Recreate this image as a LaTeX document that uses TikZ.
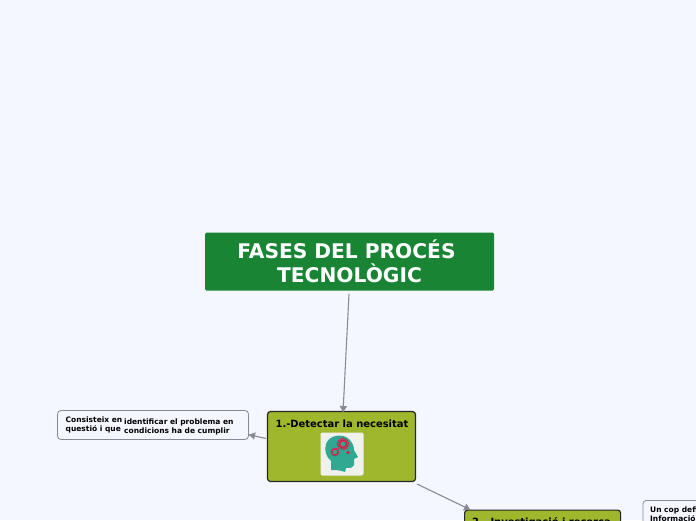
\documentclass[tikz,border=0pt]{standalone}
\usepackage{fontspec}
\setmainfont{DejaVu Sans}
\usepackage{xcolor}
\usetikzlibrary{arrows.meta}
\definecolor{pagebg}{RGB}{244,247,255}
\definecolor{titlegreen}{RGB}{25,133,52}
\definecolor{stepolive}{RGB}{158,183,45}
\definecolor{linkgray}{RGB}{136,139,146}
\definecolor{notegray}{RGB}{135,138,150}
\definecolor{headteal}{RGB}{49,168,146}
\definecolor{gearred}{RGB}{214,32,72}
\definecolor{iconbg}{RGB}{240,241,236}

\tikzset{
    titlebox/.style={fill=titlegreen, rounded corners=1.5pt, minimum width=289pt, minimum height=58pt, inner sep=0pt, text=white, align=center, font=\bfseries\fontsize{20.2}{23.5}\selectfont},
    stepbox/.style={draw=black!85, line width=1.2pt, fill=stepolive, rounded corners=3pt, inner sep=0pt},
    notebox/.style={draw=notegray, line width=0.8pt, fill=pagebg, rounded corners=3.5pt, inner sep=0pt},
    notetext/.style={inner sep=0pt, align=left, anchor=north west, font=\bfseries\fontsize{7.5}{9}\selectfont},
    steptext/.style={inner sep=0pt, font=\bfseries\fontsize{9.95}{11}\selectfont},
    link/.style={draw=linkgray, line width=1.1pt, -{Latex[length=7pt,width=8pt]}}
}

\begin{document}
\begin{tikzpicture}[x=1pt,y=-1pt]

\useasboundingbox (0,0) rectangle (696,520);
\clip (0,0) rectangle (696,520);
\fill[pagebg] (0,0) rectangle (696,520);

% main title
\node[titlebox] (title) at (349.5,261.5) {FASES DEL PROCÉS\hspace*{6pt}\\TECNOLÒGIC};

% first step
\node[stepbox, minimum width=148pt, minimum height=70pt] (detect) at (341.5,446.5) {};
\node[steptext] (detecttext) at (342,423.5) {1.-Detectar la necesitat};
\node[fill=iconbg, rounded corners=2pt, minimum width=43pt, minimum height=43pt, inner sep=0pt] (icon) at (342,454) {};

% head icon
\fill[headteal] (331,470) -- (331,461) .. controls (326,457) and (324,450) .. (326,444) .. controls (329,435) and (342,433) .. (349,439) .. controls (353,443) and (354,447) .. (354,450) -- (358,457) -- (354,459) -- (354,465) .. controls (353,468) and (351,468) .. (346,468) -- (345,472) .. controls (340,470) and (335,470) .. (331,470) -- cycle;
\draw[gearred, line width=1.6pt, dash pattern=on 1.6pt off 1pt] (343,444) circle (5.6pt);
\draw[gearred, line width=1.8pt] (343,444) circle (3.6pt);
\draw[gearred, line width=1.1pt, dash pattern=on 1.2pt off 0.8pt] (335,452) circle (3.9pt);
\draw[gearred, line width=0.9pt] (335,452) circle (2.9pt);
\fill[gearred] (348,452.5) circle (1.9pt);

% note of first step
\node[notebox, minimum width=191pt, minimum height=29pt] (note) at (153,425) {};
\node[notetext] (notetexta) at (65.5,417) {Consisteix en\\questió i que};
\node[notetext] (notetextb) at (124,418.5) {identificar el problema en\\condicions ha de cumplir};

% second step, cut by the page
\node[stepbox, minimum width=156pt, minimum height=60pt, anchor=north west] (search) at (464,509.5) {};
\node[steptext, anchor=north west] (searchtext) at (472,517) {2.- Investigació i recerca};

% note of second step, cut by the page
\node[notebox, minimum width=80pt, minimum height=50pt, anchor=north west] (note2) at (642.5,500) {};
\node[notetext] (note2text) at (650,507) {Un cop definit\\Informació};

% connectors
\coordinate (titleout) at (349,294);
\coordinate (detectin) at (343,413);
\coordinate (detectleft) at (266,438.5);
\coordinate (noteright) at (248,434.5);
\coordinate (detectout) at (417,484);
\coordinate (searchin) at (471,510);
\draw[link] (titleout) -- (detectin);
\draw[link] (detectleft) -- (noteright);
\draw[link] (detectout) -- (searchin);

\end{tikzpicture}
\end{document}
